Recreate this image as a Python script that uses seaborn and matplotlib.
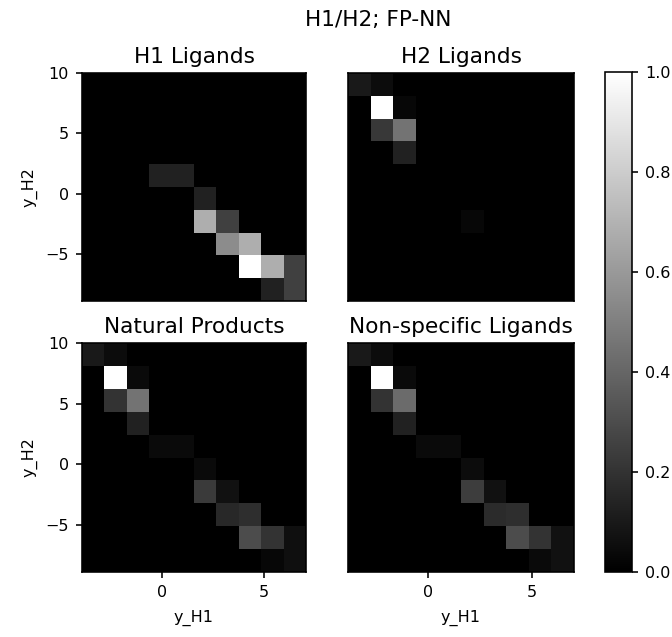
import numpy as np
import pandas as pd
import matplotlib
matplotlib.use("Agg")
import matplotlib.pyplot as plt
import seaborn as sns

# Axis ranges of the 2D histograms (y_H1 on x, y_H2 on y), 10 bins each
x_range = (-3.9, 7.05)
y_range = (-8.9, 10.0)
n_bins = 10

titles = ["H1 Ligands", "H2 Ligands", "Natural Products", "Non-specific Ligands"]

# Non-zero cells: column index (y_H1 bin, left->right), row index (y_H2 bin, top->bottom), normalised density
h1_cols = [3, 4, 5, 5, 6, 6, 7, 7, 8, 9, 8, 9]
h1_rows = [4, 4, 5, 6, 6, 7, 7, 8, 8, 8, 9, 9]
h1_vals = [0.13, 0.13, 0.13, 0.68, 0.25, 0.55, 0.68, 1.0, 0.68, 0.25, 0.13, 0.25]

h2_cols = [0, 1, 1, 2, 1, 2, 2, 5]
h2_rows = [0, 0, 1, 1, 2, 2, 3, 6]
h2_vals = [0.10, 0.05, 1.0, 0.03, 0.22, 0.45, 0.13, 0.03]

np_cols = [0, 1, 1, 2, 1, 2, 2, 3, 4, 5, 5, 6, 6, 7, 7, 8, 9, 8, 9]
np_rows = [0, 0, 1, 1, 2, 2, 3, 4, 4, 5, 6, 6, 7, 7, 8, 8, 8, 9, 9]
np_vals = [0.10, 0.05, 1.0, 0.04, 0.20, 0.45, 0.13, 0.04, 0.04, 0.04,
           0.23, 0.07, 0.16, 0.18, 0.30, 0.20, 0.06, 0.03, 0.06]

ns_cols = [0, 1, 1, 2, 1, 2, 2, 3, 4, 5, 5, 6, 6, 7, 7, 8, 9, 8, 9]
ns_rows = [0, 0, 1, 1, 2, 2, 3, 4, 4, 5, 6, 6, 7, 7, 8, 8, 8, 9, 9]
ns_vals = [0.10, 0.05, 1.0, 0.04, 0.20, 0.42, 0.13, 0.04, 0.04, 0.05,
           0.24, 0.07, 0.17, 0.18, 0.30, 0.20, 0.07, 0.04, 0.07]

panels = [(h1_cols, h1_rows, h1_vals), (h2_cols, h2_rows, h2_vals),
          (np_cols, np_rows, np_vals), (ns_cols, ns_rows, ns_vals)]

x_edges = np.linspace(x_range[0], x_range[1], n_bins + 1)
y_edges = np.linspace(y_range[0], y_range[1], n_bins + 1)
x_centers = (x_edges[:-1] + x_edges[1:]) / 2
y_centers_top_down = ((y_edges[:-1] + y_edges[1:]) / 2)[::-1]

W, H = 672, 637
dpi = 144
fig = plt.figure(figsize=(W / dpi, H / dpi), dpi=dpi)

TICK_FS = 8
LABEL_FS = 8
TITLE_FS = 10.8

def box(l, t, r, b):
    return [l / W, 1 - b / H, (r - l) / W, (b - t) / H]

positions = [box(82, 73, 306, 301), box(348, 73, 574, 301),
             box(82, 343, 306, 572), box(348, 343, 574, 572)]

mesh = None
for i, ((cols, rows, vals), pos, title) in enumerate(zip(panels, positions, titles)):
    ax = fig.add_axes(pos)
    xs, ys, ws = [], [], []
    lookup = {(c, r): v for c, r, v in zip(cols, rows, vals)}
    for r in range(n_bins):
        for c in range(n_bins):
            xs.append(x_centers[c])
            ys.append(y_centers_top_down[r])
            ws.append(lookup.get((c, r), 0.0))
    df = pd.DataFrame({"y_H1": xs, "y_H2": ys, "w": ws})
    sns.histplot(data=df, x="y_H1", y="y_H2", weights="w",
                 bins=[x_edges, y_edges], thresh=None, cmap="gray",
                 vmin=0, vmax=1, ax=ax)
    mesh = ax.collections[0]
    ax.set_xlim(*x_range)
    ax.set_ylim(*y_range)
    ax.set_xticks([0, 5])
    ax.set_yticks([-5, 0, 5, 10])
    ax.set_title(title, fontsize=TITLE_FS, pad=5)
    for s in ax.spines.values():
        s.set_visible(True)
        s.set_color("black")
        s.set_linewidth(0.8)
    if i < 2:
        ax.set_xticks([])
        ax.set_xlabel("")
    else:
        ax.set_xlabel("y_H1", fontsize=LABEL_FS, labelpad=5)
    if i % 2 == 1:
        ax.set_yticks([])
        ax.set_ylabel("")
    else:
        ax.set_ylabel("y_H2", fontsize=LABEL_FS)
    ax.tick_params(labelsize=TICK_FS, length=3, width=0.8)

cax = fig.add_axes(box(605, 72, 632, 572))
cb = fig.colorbar(mesh, cax=cax)
cb.set_ticks([0.0, 0.2, 0.4, 0.6, 0.8, 1.0])
cb.ax.tick_params(labelsize=TICK_FS, length=3, width=0.8)
cb.outline.set_linewidth(0.8)

fig.text(378 / W, 1 - 20 / H, "H1/H2; FP-NN", ha="center", va="center", fontsize=TITLE_FS)

fig.savefig("out.png", dpi=dpi)
